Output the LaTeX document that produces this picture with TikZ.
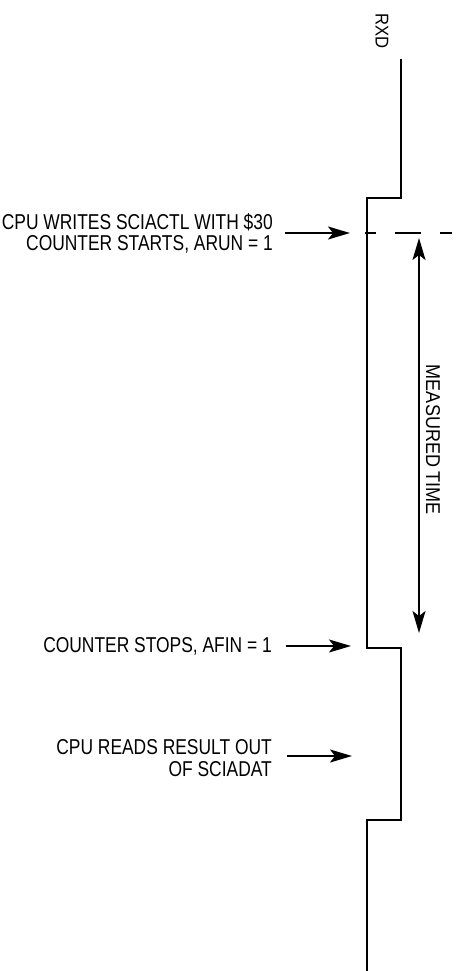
\documentclass[tikz,border=0pt]{standalone}
\usepackage{fontspec}
\setmainfont{Liberation Sans}[FakeStretch=0.81]
\newfontfamily\sidefont{Liberation Sans}[FakeStretch=0.9]
\usetikzlibrary{arrows.meta}
\begin{document}
\begin{tikzpicture}[x=1pt,y=-1pt,
  wave/.style={line width=2pt},
  pointer/.style={line width=1.7pt,-{Stealth[length=22pt,width=13pt,inset=5pt]}},
  span/.style={line width=1.7pt,{Stealth[length=22pt,width=13pt,inset=5pt]}-{Stealth[length=22pt,width=13pt,inset=5pt]}},
  label/.style={font=\fontsize{21.5}{21.5}\selectfont,align=right,anchor=east,inner sep=0pt}]
\useasboundingbox (0,0) rectangle (460,971);
% waveform
\draw[wave] (401,59) -- (401,198) -- (367,198) -- (367,648) -- (401,648) -- (401,820) -- (367,820) -- (367,971);
% RXD label
\node[font=\sidefont\fontsize{18.5}{20}\selectfont,rotate=-90,inner sep=0pt] (rxd) at (382,31) {RXD};
% dashed reference line
\coordinate (d1) at (365,233);
\coordinate (d2) at (452,233);
\draw[line width=1.7pt,dash pattern=on 26pt off 19pt,dash phase=15pt] (d1) -- (d2);
% labels
\node[label] (l1) at (273,233.5) {CPU WRITES SCIACTL WITH \$30\\COUNTER STARTS, ARUN = 1};
\node[label] (l2) at (272,646) {COUNTER STOPS, AFIN = 1};
\node[label] (l3) at (272,758) {CPU READS RESULT OUT\\OF SCIADAT};
% pointer arrows
\coordinate (a1s) at (285,233); \coordinate (a1e) at (350,233);
\coordinate (a2s) at (286,646); \coordinate (a2e) at (351,646);
\coordinate (a3s) at (287,756); \coordinate (a3e) at (352,756);
\draw[pointer] (a1s) -- (a1e);
\draw[pointer] (a2s) -- (a2e);
\draw[pointer] (a3s) -- (a3e);
% measured time
\coordinate (m1) at (419,238); \coordinate (m2) at (419,633);
\draw[span] (m1) -- (m2);
\node[font=\sidefont\fontsize{20}{22}\selectfont,rotate=-90,inner sep=0pt] (mt) at (433,440) {MEASURED TIME};
\end{tikzpicture}
\end{document}
